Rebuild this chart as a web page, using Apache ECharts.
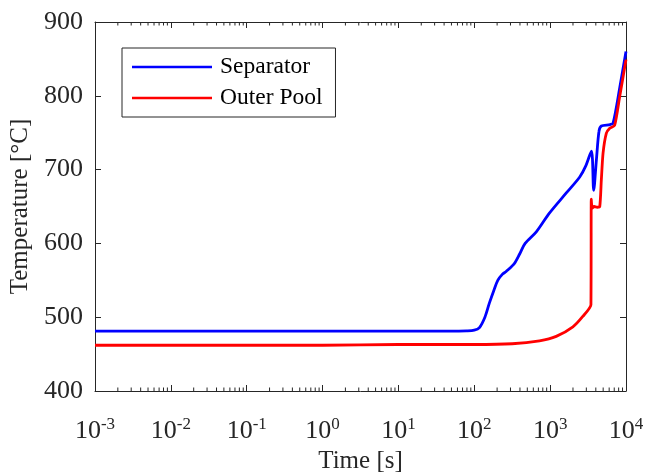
<!DOCTYPE html>
<html>
<head>
<meta charset="utf-8">
<script src="https://cdn.jsdelivr.net/npm/echarts@6/dist/echarts.min.js"></script>
<style>
  html, body { margin: 0; padding: 0; background: #fff; }
  #main { width: 649px; height: 474px; }
</style>
</head>
<body>
<div id="main"></div>
<script>
// time [s] and temperature [°C]
const sepTime = [0.001, 0.01, 0.1, 1, 10, 50, 79, 100, 117, 138, 158, 182, 204, 234, 263, 339, 398, 468, 661, 977, 1622, 2455, 2950, 3500, 3750, 4070, 4405, 4730, 6170, 6760, 8300, 10000];
const sepTemp = [481, 481, 481, 481, 481, 481, 481.5, 482.5, 486, 500, 519, 537, 550, 558, 562, 573, 586, 600, 616, 641, 668, 690, 705, 725, 672, 713, 752, 759, 761, 763, 812, 860];

const poolTime = [0.001, 0.01, 0.1, 1, 10, 100, 316, 724, 1202, 1995, 2692, 3450, 3480, 3530, 3630, 3800, 4170, 4510, 4730, 4980, 5500, 6100, 7080, 8260, 10000];
const poolTemp = [462, 462, 462, 462, 463, 463, 464, 468, 474, 487, 501, 517, 660, 652, 648, 650, 649, 650, 686, 722, 749, 756, 760, 799, 849];

const yTicks = [400, 500, 600, 700, 800, 900];

const FONT = '"Liberation Serif", "Times New Roman", serif';
const INK = '#262626';

const chart = echarts.init(document.getElementById('main'));

function pairs(xs, ys) {
  return xs.map((x, i) => [x, ys[i]]);
}

const xBase = {
  type: 'log',
  logBase: 10,
  min: 0.001,
  max: 10000,
  axisLine: { show: true, lineStyle: { color: INK, width: 1 } },
  axisTick: { show: true, inside: true, length: 6, lineStyle: { color: INK } },
  splitLine: { show: false },
  minorTick: { show: false }
};
const yBase = {
  type: 'value',
  min: yTicks[0],
  max: yTicks[yTicks.length - 1],
  interval: 100,
  axisLine: { show: true, lineStyle: { color: INK, width: 1 } },
  axisTick: { show: true, inside: true, length: 6, lineStyle: { color: INK } },
  splitLine: { show: false }
};

chart.setOption({
  animation: false,
  textStyle: { fontFamily: FONT },
  grid: { left: 95, right: 23, top: 22, bottom: 83, outerBoundsMode: 'none', containLabel: false },
  legend: {
    left: 122,
    top: 48,
    orient: 'vertical',
    padding: [7, 13, 7, 10],
    borderColor: INK,
    borderWidth: 1,
    backgroundColor: '#fff',
    icon: 'rect',
    itemWidth: 80,
    itemHeight: 2.6,
    itemGap: 7,
    textStyle: { fontFamily: FONT, fontSize: 23.5, color: '#000', padding: [0, 0, 0, 3] },
    data: ['Separator', 'Outer Pool']
  },
  xAxis: [
    Object.assign({}, xBase, {
      position: 'bottom',
      name: 'Time [s]',
      nameLocation: 'middle',
      nameGap: 55,
      nameTextStyle: { fontFamily: FONT, fontSize: 25, color: INK },
      axisLabel: {
        margin: 25,
        color: INK,
        formatter: function (v) {
          return '{b|10}{s|' + Math.round(Math.log10(v)) + '}';
        },
        rich: {
          b: { fontFamily: FONT, fontSize: 26, color: INK },
          s: { fontFamily: FONT, fontSize: 17, color: INK, padding: [0, 0, 14, 0] }
        }
      }
    }),
    Object.assign({}, xBase, {
      position: 'top',
      axisLabel: { show: false }
    })
  ],
  yAxis: [
    Object.assign({}, yBase, {
      position: 'left',
      name: 'Temperature [°C]',
      nameLocation: 'middle',
      nameGap: 60,
      nameTextStyle: { fontFamily: FONT, fontSize: 25, color: INK },
      axisLabel: { margin: 12, color: INK, fontFamily: FONT, fontSize: 26 }
    }),
    Object.assign({}, yBase, {
      position: 'right',
      axisLabel: { show: false }
    })
  ],
  series: [
    {
      name: 'Separator',
      type: 'line',
      data: pairs(sepTime, sepTemp),
      symbol: 'none',
      smooth: 0.3,
      lineStyle: { color: '#0000ff', width: 2.8 },
      itemStyle: { color: '#0000ff' }
    },
    {
      name: 'Outer Pool',
      type: 'line',
      data: pairs(poolTime, poolTemp),
      symbol: 'none',
      smooth: 0.2,
      lineStyle: { color: '#ff0000', width: 2.8 },
      itemStyle: { color: '#ff0000' }
    }
  ]
});

// minor ticks of the log axis at 2..9 of each decade (bottom and top)
const yBottom = chart.convertToPixel({ yAxisIndex: 0 }, yTicks[0]);
const yTop = chart.convertToPixel({ yAxisIndex: 0 }, yTicks[yTicks.length - 1]);
const minor = [];
for (let e = -3; e < 4; e++) {
  for (let k = 2; k <= 9; k++) {
    const px = chart.convertToPixel({ xAxisIndex: 0 }, k * Math.pow(10, e));
    minor.push({
      type: 'line', silent: true,
      shape: { x1: px, y1: yBottom, x2: px, y2: yBottom - 3.5 },
      style: { stroke: INK, lineWidth: 1 }
    });
    minor.push({
      type: 'line', silent: true,
      shape: { x1: px, y1: yTop, x2: px, y2: yTop + 3.5 },
      style: { stroke: INK, lineWidth: 1 }
    });
  }
}
chart.setOption({ graphic: minor });
</script>
</body>
</html>
